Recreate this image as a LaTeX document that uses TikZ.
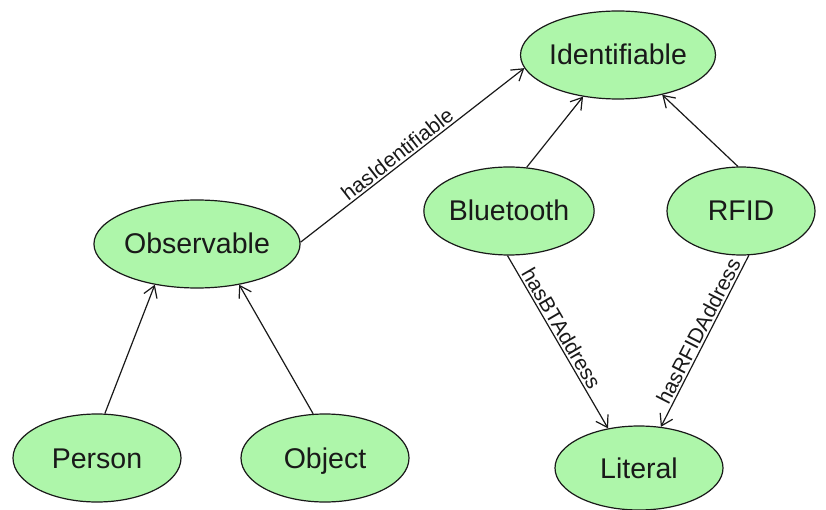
\documentclass[tikz,border=0pt]{standalone}
\usepackage{fontspec}
\setmainfont{Liberation Sans}
\usetikzlibrary{shapes.geometric,arrows.meta}
\definecolor{classfill}{RGB}{174,246,170}
\definecolor{ink}{RGB}{25,25,25}
\tikzset{
  cls/.style={ellipse, draw=ink, line width=1.2pt, fill=classfill, inner sep=0pt,
    minimum width=168pt, minimum height=88pt, text=ink,
    text height=20pt, text depth=0pt,
    font=\fontsize{28.5}{31}\selectfont},
  rel/.style={draw=ink, line width=1.2pt, -{Straight Barb[length=11pt,width=14pt,line width=1.2pt]}},
  lbl/.style={sloped, above, inner sep=2pt, text=ink, font=\fontsize{21}{23}\selectfont}
}
\begin{document}
\begin{tikzpicture}[x=1pt,y=-1pt]
\useasboundingbox (0,0) rectangle (826,510);

% classes
\node[cls] (ident) at (618,55) {Identifiable};
\node[cls] (obs)   at (197,244) {Observable};
\node[cls] (bt)    at (509,211) {Bluetooth};
\node[cls, minimum width=148pt] (rfid) at (741,211) {RFID};
\node[cls] (person) at (97,458) {Person};
\node[cls] (object) at (325,458) {Object};
\node[cls, minimum height=84pt] (lit) at (639,468) {Literal};

% subclass links
\draw[rel] (person.80) -- (obs.224);
\draw[rel] (object.105) -- (obs.316);
\draw[rel] (bt.68) -- (ident.230);
\draw[rel] (rfid.94) -- (ident.318);

% properties
\draw[rel] (obs.1) -- node[lbl, pos=0.46] {hasIdentifiable} (ident.188);
\draw[rel] (bt.268) -- node[lbl, pos=0.45] {hasBTAddress} (lit.128);
\draw[rel] (rfid.280) -- node[lbl, pos=0.47] {hasRFIDAddress} (lit.62);
\end{tikzpicture}
\end{document}
